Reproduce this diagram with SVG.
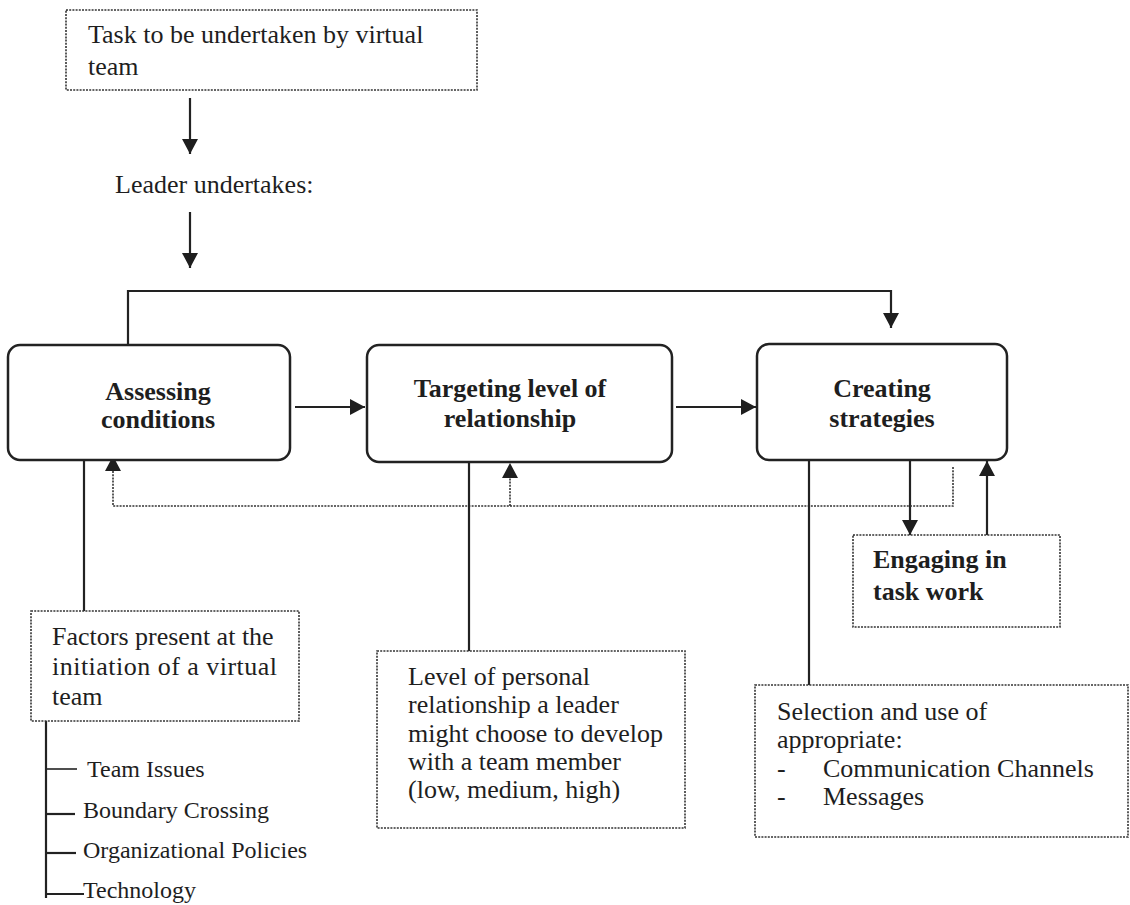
<svg xmlns="http://www.w3.org/2000/svg" width="1130" height="905" viewBox="0 0 1130 905">
<style>
text{font-family:"Liberation Serif","Times New Roman",serif;fill:#1e1e1e;}
.t{font-size:26px;}
.b{font-size:26px;font-weight:bold;}
.s{font-size:24px;}
.rb{fill:#fff;stroke:#222;stroke-width:2.5;}
.db{fill:#fff;stroke:#333;stroke-width:1.6;stroke-dasharray:2 1.2;}
.ln{fill:none;stroke:#222;stroke-width:2.2;}
.thin{fill:none;stroke:#222;stroke-width:1.6;}
.dl{fill:none;stroke:#333;stroke-width:1.6;stroke-dasharray:2 1.2;}
</style>
<defs>
<marker id="ah" markerUnits="userSpaceOnUse" markerWidth="16" markerHeight="16" refX="15" refY="8" orient="auto">
<path d="M0,0 L15,8 L0,16 z" fill="#1e1e1e"/>
</marker>
</defs>
<rect width="1130" height="905" fill="#fff"/>

<g id="connectors">
<line class="ln" x1="190" y1="98" x2="190" y2="154" marker-end="url(#ah)"/>
<line class="ln" x1="190" y1="212" x2="190" y2="268" marker-end="url(#ah)"/>
<polyline class="ln" points="128,345 128,291 891,291 891,328" marker-end="url(#ah)"/>
<line class="ln" x1="295" y1="407" x2="365" y2="407" marker-end="url(#ah)"/>
<line class="ln" x1="676" y1="407" x2="756" y2="407" marker-end="url(#ah)"/>
<line class="ln" x1="910" y1="460" x2="910" y2="535" marker-end="url(#ah)"/>
<line class="ln" x1="987" y1="535" x2="987" y2="461" marker-end="url(#ah)"/>
<polyline class="dl" points="953,467 953,506 113,506 113,471"/>
<path d="M105,471 L113,456 L121,471 z" fill="#1e1e1e"/>
<line class="dl" x1="510" y1="506" x2="510" y2="478"/>
<path d="M502,478 L510,463 L518,478 z" fill="#1e1e1e"/>
<line class="ln" x1="84" y1="460" x2="84" y2="611"/>
<line class="ln" x1="469" y1="462" x2="469" y2="651"/>
<line class="ln" x1="809" y1="460" x2="809" y2="685"/>
<line class="ln" x1="46" y1="721" x2="46" y2="898"/>
<line class="thin" x1="46" y1="769" x2="77" y2="769"/>
<line class="ln" x1="46" y1="814" x2="75" y2="814"/>
<line class="ln" x1="46" y1="853" x2="76" y2="853"/>
<line class="ln" x1="46" y1="894" x2="84" y2="894"/>
</g>

<g id="task">
<rect class="db" x="66" y="10" width="411" height="80"/>
<text class="t" x="88" y="43">Task to be undertaken by virtual</text>
<text class="t" x="88" y="75">team</text>
</g>

<g id="leader">
<text class="t" x="115" y="193">Leader undertakes:</text>
</g>

<g id="assessing">
<rect class="rb" x="8" y="345" width="282" height="115" rx="12"/>
<text class="b" x="158" y="400" text-anchor="middle">Assessing</text>
<text class="b" x="158" y="428" text-anchor="middle">conditions</text>
</g>

<g id="targeting">
<rect class="rb" x="367" y="345" width="305" height="117" rx="12"/>
<text class="b" x="510" y="397" text-anchor="middle">Targeting level of</text>
<text class="b" x="510" y="427" text-anchor="middle">relationship</text>
</g>

<g id="creating">
<rect class="rb" x="757" y="344" width="250" height="116" rx="12"/>
<text class="b" x="882" y="397" text-anchor="middle">Creating</text>
<text class="b" x="882" y="427" text-anchor="middle">strategies</text>
</g>

<g id="engaging">
<rect class="db" x="853" y="535" width="207" height="92"/>
<text class="b" x="873" y="568">Engaging in</text>
<text class="b" x="873" y="600">task work</text>
</g>

<g id="factors">
<rect class="db" x="31" y="611" width="268" height="110"/>
<text class="t" x="52" y="645">Factors present at the</text>
<text class="t" x="52" y="675" textLength="225" lengthAdjust="spacing">initiation of a virtual</text>
<text class="t" x="52" y="705">team</text>
</g>

<g id="factor-list">
<text class="s" x="87" y="777">Team Issues</text>
<text class="s" x="83" y="818">Boundary Crossing</text>
<text class="s" x="83" y="858">Organizational Policies</text>
<text class="s" x="83" y="898">Technology</text>
</g>

<g id="level">
<rect class="db" x="377" y="651" width="308" height="177"/>
<text class="t" x="408" y="685">Level of personal</text>
<text class="t" x="408" y="713">relationship a leader</text>
<text class="t" x="408" y="742">might choose to develop</text>
<text class="t" x="408" y="770">with a team member</text>
<text class="t" x="408" y="798">(low, medium, high)</text>
</g>

<g id="selection">
<rect class="db" x="755" y="685" width="373" height="152"/>
<text class="t" x="777" y="720">Selection and use of</text>
<text class="t" x="777" y="748">appropriate:</text>
<text class="t" x="777" y="777">-</text>
<text class="t" x="823" y="777">Communication Channels</text>
<text class="t" x="777" y="805">-</text>
<text class="t" x="823" y="805">Messages</text>
</g>
</svg>
